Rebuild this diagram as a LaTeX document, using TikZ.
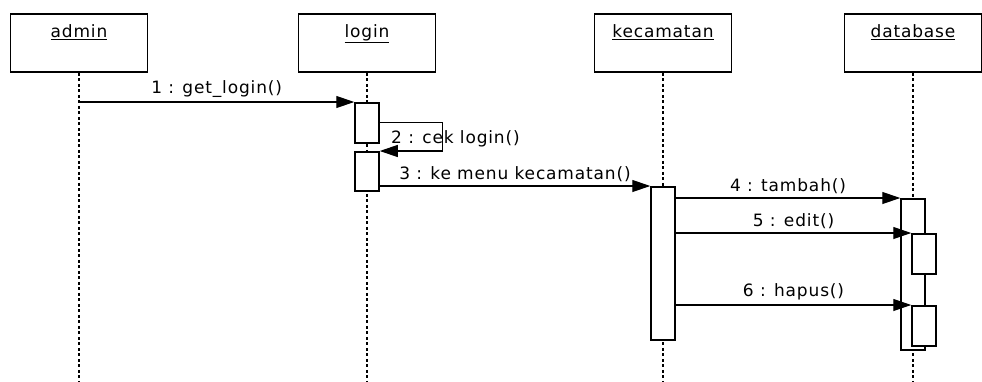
\documentclass[tikz,border=0pt]{standalone}
\usepackage{fontspec}
\setmainfont{DejaVu Sans}[LetterSpace=5]
\usetikzlibrary{arrows.meta}
\usetikzlibrary{positioning}
\def\boxw{137pt}
\def\boxh{58pt}
\def\actw{24pt}
\def\bottom{381}

\begin{document}
\begin{tikzpicture}[x=1pt,y=-1pt,font=\fontsize{17}{20}\selectfont,
  >={Triangle[length=18pt,width=12pt]},
  head node/.style={draw,line width=1.5pt,minimum width=\boxw,minimum height=\boxh,inner sep=0pt},
  head label/.style={inner sep=0pt},
  life line/.style={line width=1.8pt,dash pattern=on 3pt off 2.5pt},
  act node/.style={draw,fill=white,line width=1.5pt,minimum width=\actw,inner sep=0pt,anchor=north},
  msg/.style={->,line width=1.2pt},
  msg label/.style={above=4pt,inner sep=0pt}]

\useasboundingbox (0,0) rectangle (982,381);
\clip (0,0) rectangle (982,381);

% objects
\node[head node] (admin) at (79,43) {};
\node[head node] (login) at (367,43) {};
\node[head node] (kecamatan) at (663,43) {};
\node[head node] (database) at (913,43) {};

\node[head label, below=11pt of admin.north] (admin name) {\underline{admin}};
\node[head label, below=11pt of login.north] (login name) {\underline{login}};
\node[head label, below=11pt of kecamatan.north] (kecamatan name) {\underline{kecamatan}};
\node[head label, below=11pt of database.north] (database name) {\underline{database}};

% lifelines
\draw[life line] (admin.south) -- (admin.south |- 0,\bottom);
\draw[life line] (login.south) -- (login.south |- 0,\bottom);
\draw[life line] (kecamatan.south) -- (kecamatan.south |- 0,\bottom);
\draw[life line] (database.south) -- (database.south |- 0,\bottom);

% activations
\node[act node, minimum height=40pt] (act1) at (login.south |- 0,102) {};
\node[act node, minimum height=39pt] (act2) at (login.south |- 0,151) {};
\node[act node, minimum height=153pt] (act3) at (kecamatan.south |- 0,186) {};
\node[act node, minimum height=151pt] (act4) at (database.south |- 0,198) {};
\node[act node, minimum height=40pt] (act5) at (924,233) {};
\node[act node, minimum height=40pt] (act6) at (924,305) {};

% messages
\draw[msg] (admin.south |- act1.north) -- (act1.north west)
  node[msg label, midway] (m1) {1 : get\_login()};
\draw[msg] (act1.east) -- ++(63,0) |- (act2.north east);
\node[anchor=west, inner sep=0pt] (m2) at (391,139) {2 : cek login()};
\draw[msg] (act2.east |- act3.north) -- (act3.north west)
  node[msg label, midway] (m3) {3 : ke menu kecamatan()};
\draw[msg] (act3.east |- act4.north) -- (act4.north west)
  node[msg label, midway] (m4) {4 : tambah()};
\draw[msg] (act3.east |- act5.north) -- (act5.north west)
  node[msg label, midway] (m5) {5 : edit()};
\draw[msg] (act3.east |- act6.north) -- (act6.north west)
  node[msg label, midway] (m6) {6 : hapus()};

\end{tikzpicture}
\end{document}
